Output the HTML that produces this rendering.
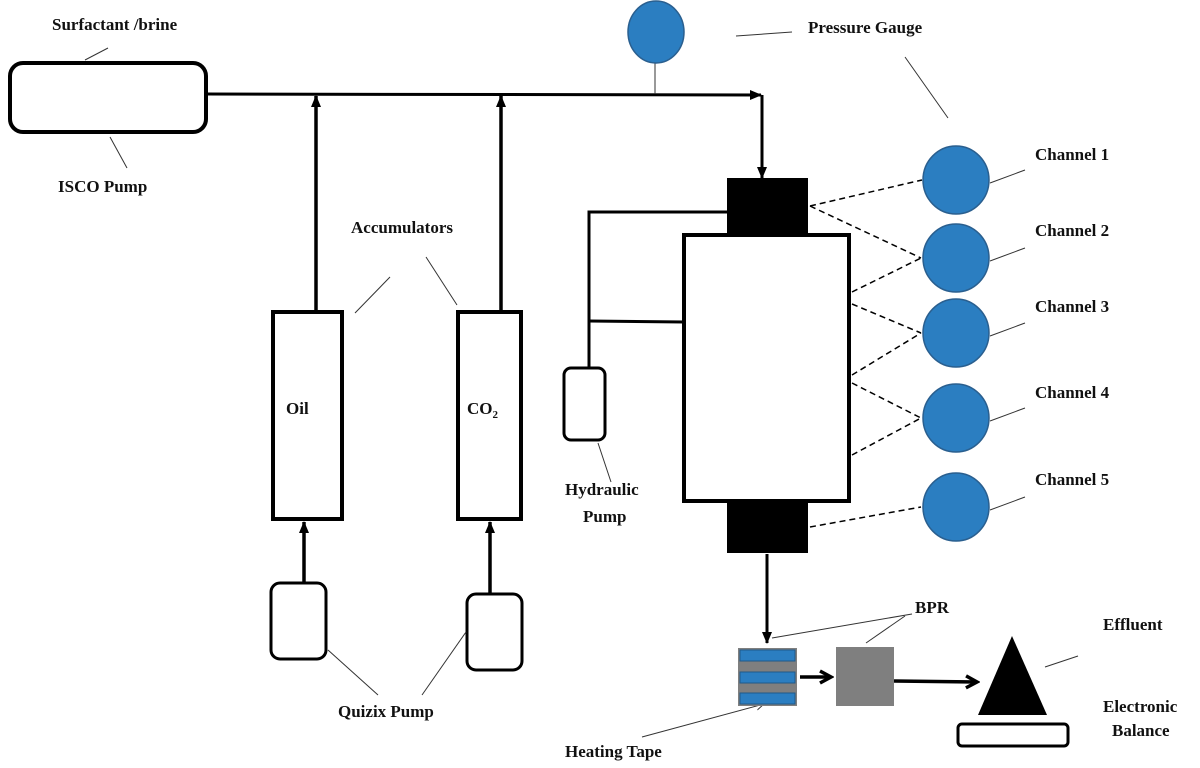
<!DOCTYPE html>
<html><head><meta charset="utf-8"><style>
html,body{margin:0;padding:0;background:#fff;width:1200px;height:768px;overflow:hidden}
svg{display:block}
text{font-family:"Liberation Serif",serif;font-weight:bold;font-size:17px;fill:#111}
</style></head><body>
<svg width="1200" height="768" viewBox="0 0 1200 768">
<defs>
<marker id="a" markerWidth="14" markerHeight="14" refX="11" refY="7" orient="auto" markerUnits="userSpaceOnUse">
<path d="M0,2 L12,7 L0,12 Z" fill="#000"/></marker>
<marker id="b" markerWidth="16" markerHeight="16" refX="13" refY="8" orient="auto" markerUnits="userSpaceOnUse">
<path d="M2,2 L13,8 L2,14" fill="none" stroke="#000" stroke-width="3.5"/></marker>
<marker id="t" markerWidth="10" markerHeight="10" refX="8" refY="5" orient="auto" markerUnits="userSpaceOnUse">
<path d="M0,1 L8,5 L0,9" fill="none" stroke="#333" stroke-width="1"/></marker>
</defs>
<g fill="none" stroke="#000">
<rect x="10" y="63" width="196" height="69" rx="13" stroke-width="4"/>
<line x1="206" y1="94" x2="761" y2="95" stroke-width="3" marker-end="url(#a)"/>
<polyline points="762,95 762,178" stroke-width="3" marker-end="url(#a)"/>
<line x1="316" y1="311" x2="316" y2="96" stroke-width="3.5" marker-end="url(#a)"/>
<line x1="501" y1="311" x2="501" y2="96" stroke-width="3.5" marker-end="url(#a)"/>
<rect x="273" y="312" width="69" height="207" stroke-width="4"/>
<rect x="458" y="312" width="63" height="207" stroke-width="4"/>
<rect x="271" y="583" width="55" height="76" rx="9" stroke-width="3"/>
<rect x="467" y="594" width="55" height="76" rx="9" stroke-width="3"/>
<line x1="304" y1="582" x2="304" y2="522" stroke-width="3.5" marker-end="url(#a)"/>
<line x1="490" y1="593" x2="490" y2="522" stroke-width="3.5" marker-end="url(#a)"/>
<line x1="655" y1="58" x2="655" y2="94" stroke="#333" stroke-width="1"/>
<polyline points="727,212 589,212 589,368" stroke-width="3"/>
<line x1="589" y1="321" x2="684" y2="322" stroke-width="3"/>
<rect x="564" y="368" width="41" height="72" rx="7" stroke-width="3"/>
<rect x="684" y="235" width="165" height="266" stroke-width="4"/>
<line x1="767" y1="554" x2="767" y2="643" stroke-width="3" marker-end="url(#a)"/>
<g stroke-dasharray="6,4" stroke-width="1.5">
<line x1="810" y1="206" x2="922" y2="180"/>
<line x1="810" y1="206" x2="921" y2="258"/>
<line x1="852" y1="292" x2="921" y2="258"/>
<line x1="852" y1="304" x2="921" y2="333"/>
<line x1="852" y1="375" x2="921" y2="333"/>
<line x1="852" y1="383" x2="921" y2="418"/>
<line x1="852" y1="455" x2="921" y2="418"/>
<line x1="810" y1="527" x2="921" y2="507"/>
</g>
<g stroke="#333" stroke-width="1">
<line x1="85" y1="60" x2="108" y2="48"/>
<line x1="110" y1="137" x2="127" y2="168"/>
<line x1="355" y1="313" x2="390" y2="277"/>
<line x1="457" y1="305" x2="426" y2="257"/>
<line x1="598" y1="443" x2="611" y2="482"/>
<line x1="328" y1="650" x2="378" y2="695"/>
<line x1="466" y1="632" x2="422" y2="695"/>
<line x1="736" y1="36" x2="792" y2="32"/>
<line x1="905" y1="57" x2="948" y2="118"/>
<line x1="990" y1="183" x2="1025" y2="170"/>
<line x1="990" y1="261" x2="1025" y2="248"/>
<line x1="990" y1="336" x2="1025" y2="323"/>
<line x1="990" y1="421" x2="1025" y2="408"/>
<line x1="990" y1="510" x2="1025" y2="497"/>
<line x1="772" y1="638" x2="912" y2="614"/>
<line x1="866" y1="643" x2="905" y2="616"/>
<line x1="1045" y1="667" x2="1078" y2="656"/>
<line x1="642" y1="737" x2="764" y2="704" marker-end="url(#t)"/>
</g>
<line x1="800" y1="677" x2="831" y2="677" stroke-width="3.5" marker-end="url(#b)"/>
<line x1="894" y1="681" x2="977" y2="682" stroke-width="3.5" marker-end="url(#b)"/>
<rect x="958" y="724" width="110" height="22" rx="4" stroke-width="3"/>
</g>
<rect x="727" y="178" width="81" height="56" fill="#000"/>
<rect x="727" y="502" width="81" height="51" fill="#000"/>
<g fill="#2b7ec1" stroke="#2a5f8f" stroke-width="1.5">
<ellipse cx="656" cy="32" rx="28" ry="31"/>
<ellipse cx="956" cy="180" rx="33" ry="34"/>
<ellipse cx="956" cy="258" rx="33" ry="34"/>
<ellipse cx="956" cy="333" rx="33" ry="34"/>
<ellipse cx="956" cy="418" rx="33" ry="34"/>
<ellipse cx="956" cy="507" rx="33" ry="34"/>
</g>
<rect x="738" y="648" width="59" height="58" fill="#7f7f7f"/>
<rect x="740" y="650" width="55" height="11" fill="#2b7ec1" stroke="#1f5a8a"/>
<rect x="740" y="672" width="55" height="11" fill="#2b7ec1" stroke="#1f5a8a"/>
<rect x="740" y="693" width="55" height="11" fill="#2b7ec1" stroke="#1f5a8a"/>
<rect x="836" y="647" width="58" height="59" fill="#7f7f7f"/>
<polygon points="1012,636 978,715 1047,715" fill="#000"/>
<text x="52" y="30">Surfactant /brine</text>
<text x="58" y="192">ISCO Pump</text>
<text x="351" y="233">Accumulators</text>
<text x="286" y="414">Oil</text>
<text x="467" y="414">CO<tspan font-size="11" dy="4">2</tspan></text>
<text x="565" y="495">Hydraulic</text>
<text x="583" y="522">Pump</text>
<text x="338" y="717">Quizix Pump</text>
<text x="808" y="33">Pressure Gauge</text>
<text x="1035" y="160">Channel 1</text>
<text x="1035" y="236">Channel 2</text>
<text x="1035" y="312">Channel 3</text>
<text x="1035" y="398">Channel 4</text>
<text x="1035" y="485">Channel 5</text>
<text x="915" y="613">BPR</text>
<text x="1103" y="630">Effluent</text>
<text x="1103" y="712">Electronic</text>
<text x="1112" y="736">Balance</text>
<text x="565" y="757">Heating Tape</text>
</svg>
</body></html>
